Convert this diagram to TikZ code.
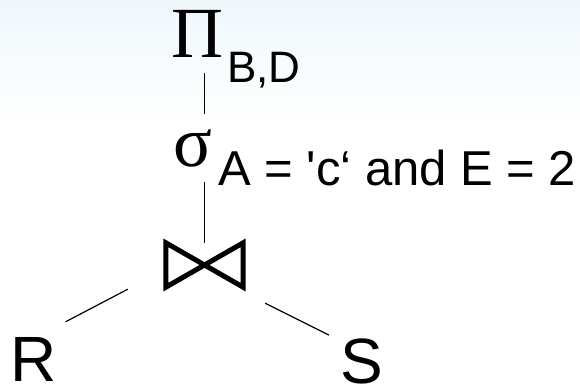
\documentclass[tikz,border=0pt]{standalone}
\usepackage{fontspec}
\setmainfont{Liberation Sans}[Ligatures=TeXOff]
\newfontfamily\opfont{Liberation Serif}
\usetikzlibrary{positioning, calc}
\definecolor{bgtop}{RGB}{240,247,251}

\begin{document}
\begin{tikzpicture}[x=1pt, y=1pt,
    opnode/.style={inner sep=0pt, outer sep=15pt, anchor=base west, font=\opfont\fontsize{72}{72}\selectfont},
    subnode/.style={inner sep=0pt, anchor=base west},
    relnode/.style={inner sep=0pt, anchor=base west, font=\fontsize{64}{64}\selectfont},
    joinbox/.style={inner sep=0pt, minimum width=77pt, minimum height=44pt},
    edge/.style={line width=1.2pt, draw=black},
    bowtie/.style={line width=5pt, line join=miter, miter limit=10}
  ]
  % Background
  \useasboundingbox (0,0) rectangle (580,386);
  \shade[top color=bgtop, bottom color=white] (0,260) rectangle (580,386);

  % Operators
  \node[opnode] (proj) at (156,328) {Π};
  \node[subnode, font=\fontsize{44}{44}\selectfont] (projsub) at (227,303) {B,D};
  \node[opnode] (sel) at (158,220) {σ};
  \node[subnode, font=\fontsize{49}{49}\selectfont] (selsub) at (218,201) {A = 'c‘ and E = 2};
  \node[joinbox] (join) at (204.5,121) {};
  \draw[bowtie] (join.north west) -- (join.south east) -- (join.north east) -- (join.south west) -- cycle;

  % Relations
  \node[relnode] (r) at (10,5) {R};
  \node[relnode] (s) at (340,3) {S};

  % Connections
  \draw[edge] (proj.south -| join.north) -- (sel.north -| join.north);
  \draw[edge] (sel.south -| join.north) -- (join.north);
  \draw[edge] ([shift={(-38pt,-2pt)}]join.south west) -- ([shift={(9pt,15pt)}]r.north east);
  \draw[edge] ([shift={(22pt,-16pt)}]join.south east) -- ([shift={(-11pt,3pt)}]s.north west);
\end{tikzpicture}
\end{document}
